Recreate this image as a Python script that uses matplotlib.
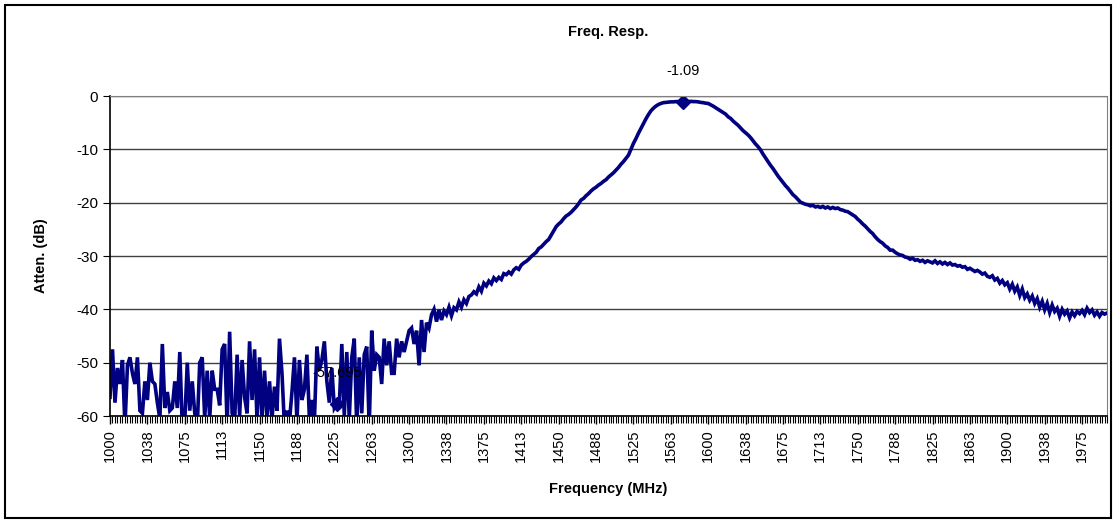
import numpy as np
import matplotlib
matplotlib.use("Agg")
import matplotlib.pyplot as plt
from matplotlib.patches import Rectangle

plt.rcParams['font.family'] = ['Liberation Sans', 'DejaVu Sans']
plt.rcParams['axes.unicode_minus'] = False

# sweep 1000..2000 MHz, 401 points
freq = np.linspace(1000, 2000, 401)

noise_part = [
    -56.5, -47.5, -57.5, -51.0, -54.0, -49.5, -62.0, -50.5, -49.0, -52.0,
    -54.0, -49.0, -59.0, -59.5, -53.5, -57.0, -50.0, -53.5, -54.0, -57.5,
    -60.5, -46.5, -58.5, -55.5, -59.0, -58.5, -53.5, -58.5, -48.0, -62.0,
    -61.0, -50.0, -59.0, -53.5, -59.5, -62.0, -50.0, -49.0, -60.5, -51.5,
    -60.5, -51.5, -55.0, -55.0, -58.0, -47.5, -46.5, -62.0, -44.2, -59.5,
    -61.0, -48.5, -60.0, -49.5, -56.5, -59.5, -46.0, -57.0, -47.5, -61.0,
    -49.0, -60.5, -51.5, -60.5, -53.5, -60.5, -54.5, -59.0, -45.5, -52.0,
    -62.0, -59.0, -61.0, -55.5, -49.0, -61.0, -49.5, -57.0, -55.0, -48.5,
    -60.5, -57.0, -61.0, -47.0, -51.5, -49.5, -46.0, -53.5, -57.5, -51.0,
    -58.5, -57.695, -58.0, -46.5, -60.0, -48.0, -60.5, -49.0, -45.5, -62.0,
    -49.0, -59.5, -48.5, -47.0, -62.0, -44.0, -51.5, -48.5, -49.0, -54.0,
    -45.5, -50.5, -46.0, -52.0, -52.0, -45.5, -49.0, -46.0, -48.0, -46.0,
    -44.0, -43.5, -46.5, -44.0, -50.5, -42.0, -48.0, -42.5, -43.5, -41.0,
]
rise_part = [
    -40.0, -42.3, -40.1, -42.0, -40.3, -41.0, -39.6, -41.2, -39.7, -40.1,
    -38.6, -39.6, -38.2, -38.9, -37.6, -37.3, -36.7, -37.1, -35.8, -36.6,
    -35.1, -35.6, -34.7, -35.2, -34.1, -34.6, -34.0, -34.4, -33.3, -33.5,
    -33.0, -33.4, -32.6, -32.2, -32.5, -31.7, -31.3, -31.0, -30.6, -30.1,
    -29.7, -29.3, -28.6, -28.3, -27.8, -27.3, -26.9, -26.1, -25.3, -24.5,
    -24.0, -23.6, -23.0, -22.5, -22.2, -21.8, -21.3, -20.8, -20.2, -19.5,
    -19.2, -18.7, -18.3, -17.8, -17.4, -17.1, -16.7, -16.4, -16.0, -15.7,
    -15.2, -14.8, -14.4, -13.9, -13.4, -12.8, -12.3, -11.7, -11.1, -10.0,
    -8.9, -8.0, -7.0, -6.1, -5.2, -4.3, -3.5, -2.8, -2.3, -1.9,
    -1.6, -1.4, -1.25, -1.2, -1.15, -1.1, -1.1, -1.05, -1.05, -1.1,
]
fall_part = [
    -1.09, -1.0, -1.05, -1.0, -1.05, -1.05, -1.1, -1.2, -1.25, -1.35,
    -1.4, -1.65, -1.9, -2.2, -2.5, -2.8, -3.1, -3.4, -3.9, -4.2,
    -4.7, -5.1, -5.5, -6.0, -6.5, -6.9, -7.3, -7.8, -8.4, -9.0,
    -9.5, -10.1, -10.9, -11.6, -12.3, -13.0, -13.6, -14.3, -15.0, -15.6,
    -16.2, -16.8, -17.3, -17.9, -18.5, -18.9, -19.4, -19.9, -20.1, -20.3,
    -20.4, -20.6, -20.5, -20.8, -20.7, -20.9, -20.7, -21.0, -20.8, -21.1,
    -20.9, -21.1, -21.0, -21.3, -21.4, -21.6, -21.7, -22.0, -22.3, -22.6,
    -23.1, -23.5, -24.0, -24.4, -24.9, -25.4, -25.8, -26.4, -26.9, -27.3,
    -27.6, -28.1, -28.4, -28.9, -28.9, -29.3, -29.6, -29.8, -29.9, -30.2,
    -30.3, -30.6, -30.4, -30.8, -30.7, -31.0, -30.8, -31.2, -30.9, -31.1,
    -31.3, -30.9, -31.4, -31.1, -31.5, -31.2, -31.6, -31.3, -31.7, -31.6,
    -31.9, -31.8, -32.1, -32.0, -32.5, -32.3, -32.6, -32.9, -32.7, -33.0,
    -33.4, -33.2, -33.8, -34.0, -33.7, -34.5, -34.2, -35.1, -34.6, -35.4,
    -35.0, -36.2, -35.3, -36.6, -35.8, -37.4, -36.2, -37.8, -37.1, -38.3,
    -37.5, -38.9, -38.0, -39.6, -38.5, -40.1, -38.9, -40.6, -39.2, -40.4,
    -39.8, -41.3, -40.0, -40.9, -40.3, -41.6, -40.5, -41.2, -40.4, -40.8,
    -40.2, -41.0, -39.8, -40.6, -40.1, -41.1, -40.5, -41.3, -40.6, -40.9, -40.7,
]
atten = np.array(noise_part + rise_part + fall_part)

# labelled markers (index into the sweep)
marker_idx = [230, 91]
marker_text = ['-1.09', '-57.695']

tick_labels = ['1000', '1038', '1075', '1113', '1150', '1188', '1225', '1263',
               '1300', '1338', '1375', '1413', '1450', '1488', '1525', '1563',
               '1600', '1638', '1675', '1713', '1750', '1788', '1825', '1863',
               '1900', '1938', '1975']

W, H = 1114, 522
fig = plt.figure(figsize=(W / 100, H / 100), dpi=100)
fig.patches.append(Rectangle((5 / W, 4 / H), 1106 / W, 513 / H, transform=fig.transFigure,
                             fill=False, edgecolor='black', linewidth=1.5))

ax = fig.add_axes([110 / W, (H - 416) / H, 997 / W, 320 / H])
navy = '#000080'

ax.plot(freq, atten, color=navy, linewidth=2.6, solid_joinstyle='miter')
for i, txt in zip(marker_idx, marker_text):
    ax.plot(freq[i], atten[i], marker='D', color=navy, markersize=7)
    ax.annotate(txt, (freq[i], atten[i]), xytext=(0, 17), textcoords='offset points',
                ha='center', va='bottom', fontsize=10.5, zorder=10)

ax.set_xlim(1000, 2000)
ax.set_ylim(-60, 0)
ax.set_yticks([0, -10, -20, -30, -40, -50, -60])
ax.yaxis.grid(True, color='#404040', linewidth=1.0)
ax.set_axisbelow(True)

ax.set_xticks(freq[::15][:len(tick_labels)])
ax.set_xticklabels(tick_labels, rotation=90, fontsize=10.5)
ax.set_xticks(freq, minor=True)
ax.tick_params(axis='x', which='major', direction='out', length=6, width=1)
ax.tick_params(axis='x', which='minor', direction='out', length=5, width=0.8)
ax.tick_params(axis='y', direction='out', length=5, labelsize=11)

for side in ['top', 'right']:
    ax.spines[side].set_color('#808080')
ax.spines['left'].set_linewidth(1.2)
ax.spines['bottom'].set_linewidth(1.2)

ax.set_title('Freq. Resp.', fontsize=10.5, fontweight='bold', pad=43)
ax.set_xlabel('Frequency (MHz)', fontsize=10.5, fontweight='bold', labelpad=14)
ax.set_ylabel('Atten. (dB)', fontsize=10.5, fontweight='bold', labelpad=20)

fig.savefig('out.png', dpi=100)
